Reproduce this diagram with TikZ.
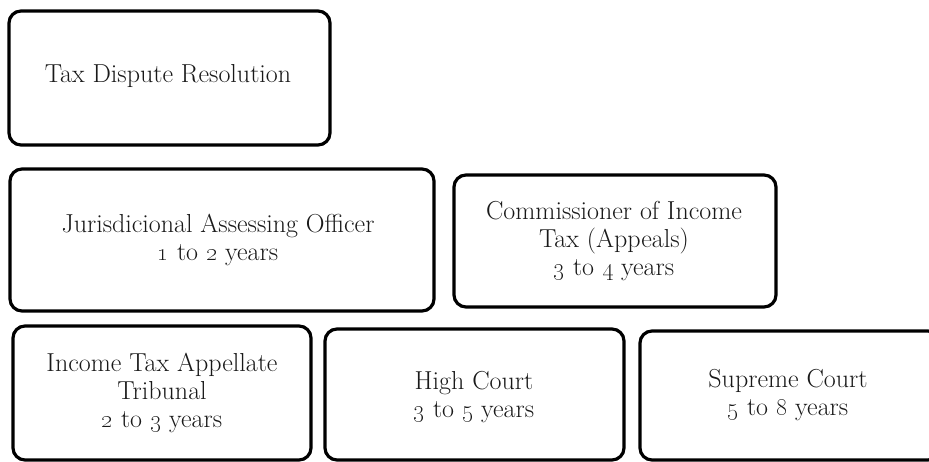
\documentclass[tikz,border=0pt]{standalone}
\begin{document}
\begin{tikzpicture}[x=1pt,y=-1pt,
  box/.style={draw=black,line width=3.2pt,rounded corners=12pt},
  lbl/.style={align=center,font=\fontsize{26}{28}\selectfont,text=black!90,inner sep=0pt}]
\useasboundingbox (0,0) rectangle (929,462);
\clip (0,0) rectangle (929,462);
\newcommand{\os}[1]{\oldstylenums{#1}}
\draw[box] (9,11) rectangle (330,145);
\draw[box] (10,169) rectangle (434,311);
\draw[box] (454,175) rectangle (776,307);
\draw[box] (13,326) rectangle (311,460);
\draw[box] (325,329) rectangle (624,460);
\draw[box] (640,331) rectangle (940,460);
\node[lbl] (t1) at (168,76) {Tax Dispute Resolution};
\node[lbl] (t2) at (218,240) {Jurisdicional Assessing Officer\\\os{1} to \os{2} years};
\node[lbl] (t3) at (614,241) {Commissioner of Income\\Tax (Appeals)\\\os{3} to \os{4} years};
\node[lbl] (t4) at (162,393) {Income Tax Appellate\\Tribunal\\\os{2} to \os{3} years};
\node[lbl] (t5) at (474,397) {High Court\\\os{3} to \os{5} years};
\node[lbl] (t6) at (788,395) {Supreme Court\\\os{5} to \os{8} years};
\end{tikzpicture}
\end{document}
